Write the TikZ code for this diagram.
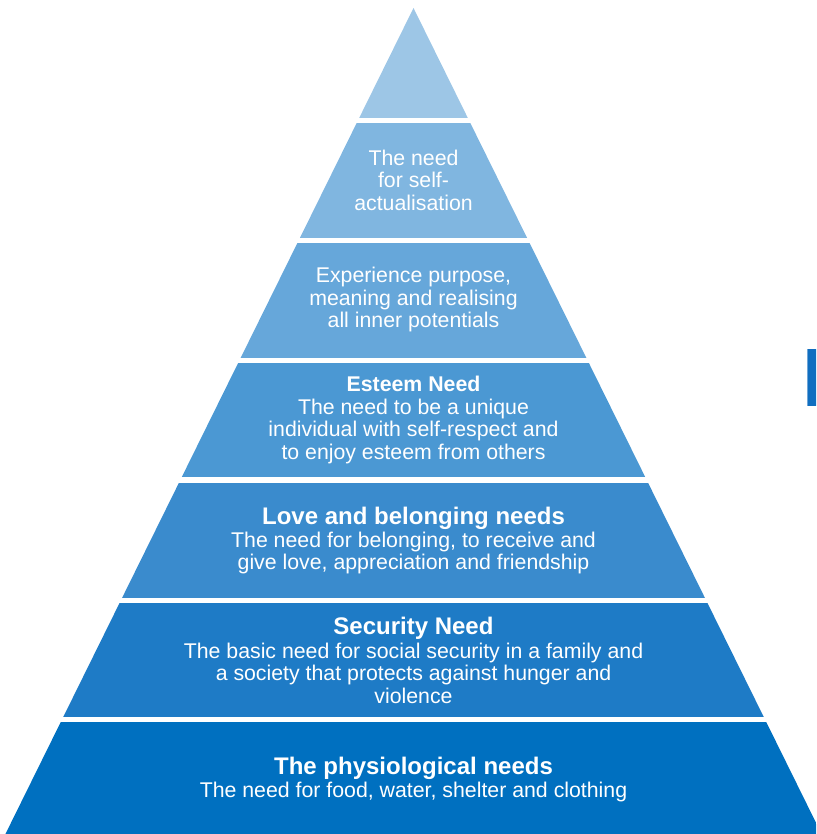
\documentclass[tikz,border=0pt]{standalone}
\usepackage{fontspec}
\setmainfont{Liberation Sans}
\definecolor{cA}{HTML}{9DC6E6}
\definecolor{cB}{HTML}{80B6E0}
\definecolor{cC}{HTML}{66A7DA}
\definecolor{cD}{HTML}{4B98D3}
\definecolor{cE}{HTML}{3A8BCD}
\definecolor{cF}{HTML}{1E7BC6}
\definecolor{cG}{HTML}{0070C0}
\definecolor{tabfill}{HTML}{106EC0}
\definecolor{tabline}{HTML}{6FA6D8}
\tikzset{
  bandtext/.style={text=white, align=center, inner sep=0pt,
    font=\fontsize{21.3}{22.5}\selectfont},
}
\newcommand{\ttl}[1]{{\bfseries\fontsize{24}{24}\selectfont #1}}
\newcommand{\ttlsmall}[1]{{\bfseries #1}}
\begin{document}
\begin{tikzpicture}[x=1pt,y=-1pt]
\useasboundingbox (0,0) rectangle (816,834);
\clip (0,0) rectangle (816,834);
\begin{scope}
  \clip (413.5,8) -- (0,845) -- (827,845) -- cycle;
  \fill[cA] (0,0) rectangle (830,118);
  \fill[cB] (0,123) rectangle (830,238);
  \fill[cC] (0,243) rectangle (830,357.5);
  \fill[cD] (0,363) rectangle (830,477);
  \fill[cE] (0,482.5) rectangle (830,597.5);
  \fill[cF] (0,602.5) rectangle (830,717);
  \fill[cG] (0,722) rectangle (830,845);
\end{scope}
\fill[tabfill] (807,349) rectangle (820,406);
\draw[tabline, line width=0.8pt] (807.4,349) -- (807.4,406);

\node[bandtext] (selfact) at (413.5,180) {The need\\for self-\\actualisation};
\node[bandtext] (purpose) at (413.5,299.5) {Experience purpose,\\meaning and realising\\all inner potentials};
\node[bandtext] (esteem) at (413.5,420) {\ttlsmall{Esteem Need}\\The need to be a unique\\individual with self-respect and\\to enjoy esteem from others};
\node[bandtext] (love) at (413.5,540.5) {\ttl{Love and belonging needs}\\[0.8pt]The need for belonging, to receive and\\give love, appreciation and friendship};
\node[bandtext] (security) at (413.5,660.5) {\ttl{Security Need}\\[0.8pt]The basic need for social security in a family and\\a society that protects against hunger and\\violence};
\node[bandtext] (physio) at (413.5,780) {\ttl{The physiological needs}\\[0.5pt]The need for food, water, shelter and clothing};
\end{tikzpicture}
\end{document}
